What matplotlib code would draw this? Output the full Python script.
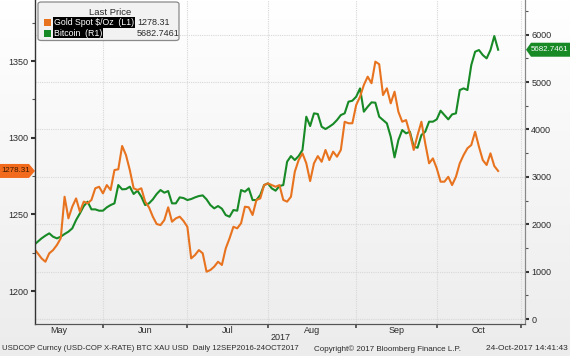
import numpy as np
import pandas as pd
import matplotlib
matplotlib.use("Agg")
import matplotlib.pyplot as plt
import matplotlib.transforms as mtransforms
from matplotlib.patches import Polygon, FancyBboxPatch, Rectangle
from matplotlib.colors import LinearSegmentedColormap

plt.rcParams["font.family"] = ["Liberation Sans", "DejaVu Sans"]

# data: business days 8 May 2017 - 24 Oct 2017
dates = pd.bdate_range("2017-05-08", "2017-10-24")

gold = [1227.8, 1224.6, 1221.3, 1219.1, 1224.6, 1226.7, 1230.0, 1234.4, 1261.5, 1247.4,
        1255.0, 1260.4, 1251.7, 1258.3, 1257.2, 1259.4, 1267.0, 1268.0, 1263.7, 1269.1,
        1265.9, 1278.9, 1279.4, 1294.6, 1288.7, 1278.9, 1267.0, 1265.9, 1267.0, 1258.3,
        1254.6, 1248.5, 1243.7, 1243.0, 1246.3, 1254.6, 1245.2, 1247.4, 1248.5, 1245.7,
        1241.9, 1221.3, 1223.5, 1226.7, 1224.6, 1212.6, 1213.7, 1215.9, 1219.1, 1217.0,
        1227.8, 1234.4, 1241.9, 1240.9, 1244.2, 1255.0, 1254.6, 1249.6, 1259.4, 1260.4,
        1269.1, 1270.2, 1269.1, 1268.0, 1269.1, 1259.4, 1258.3, 1261.5, 1277.8, 1285.4,
        1289.8, 1283.3, 1271.7, 1283.3, 1288.0, 1284.3, 1292.0, 1285.4, 1290.9, 1287.6,
        1292.0, 1310.4, 1309.4, 1309.4, 1321.3, 1326.7, 1334.4, 1339.8, 1335.5, 1349.6,
        1347.9, 1327.8, 1332.2, 1322.4, 1330.0, 1316.9, 1310.4, 1311.5, 1302.8, 1292.0,
        1301.7, 1310.4, 1296.3, 1283.3, 1286.5, 1280.0, 1271.3, 1271.3, 1274.5, 1269.1,
        1274.5, 1283.3, 1288.7, 1293.1, 1295.2, 1303.9, 1294.1, 1285.4, 1282.2, 1289.8,
        1281.5, 1278.31]

bitcoin = [1561, 1632, 1702, 1759, 1808, 1737, 1702, 1737, 1794, 1843,
           1913, 2089, 2230, 2384, 2476, 2314, 2314, 2286, 2286, 2356,
           2405, 2441, 2827, 2736, 2743, 2792, 2638, 2708, 2581, 2405,
           2441, 2525, 2638, 2722, 2666, 2701, 2441, 2441, 2567, 2553,
           2511, 2532, 2567, 2595, 2609, 2525, 2405, 2335, 2384, 2328,
           2194, 2159, 2300, 2286, 2722, 2687, 2757, 2511, 2511, 2616,
           2827, 2862, 2757, 2708, 2806, 2827, 3320, 3439, 3355, 3439,
           3566, 4269, 4072, 4340, 4326, 4058, 4009, 4058, 4115, 4199,
           4304, 4340, 4586, 4607, 4691, 4867, 4375, 4480, 4572, 4565,
           4269, 4199, 4129, 3847, 3411, 3777, 3988, 3918, 3953, 3636,
           3615, 3882, 3953, 4164, 4164, 4213, 4396, 4304, 4213, 4318,
           4340, 4832, 4867, 4832, 5359, 5641, 5676, 5570, 5500, 5676,
           5971, 5682.7461]

gold_last = 1278.31
btc_last = 5682.7461
gold_ticks = [1200, 1250, 1300, 1350]
btc_ticks = [0, 1000, 2000, 3000, 4000, 5000, 6000]
month_names = ["May", "Jun", "Jul", "Aug", "Sep", "Oct"]

ORANGE = "#e8731f"
GREEN = "#178a26"
TXT = "#2b2b2b"

W, H = 570, 356
fig = plt.figure(figsize=(W / 100, H / 100), dpi=100)

# background gradient
bg = fig.add_axes([0, 0, 1, 1], zorder=-5)
grad = LinearSegmentedColormap.from_list("g", ["#ffffff", "#ececec"])
bg.imshow(np.linspace(0, 1, 256).reshape(-1, 1), cmap=grad, aspect="auto",
          extent=[0, 1, 0, 1])
bg.axis("off")

left, right, bottom, top = 35 / W, 525 / W, 1 - 324 / H, 1.0
ax2 = fig.add_axes([left, bottom, right - left, top - bottom])  # bitcoin (right)
ax = ax2.twinx()                                                 # gold (left)
ax.yaxis.set_label_position("left")
ax.yaxis.tick_left()
ax2.yaxis.tick_right()
ax.set_zorder(ax2.get_zorder() + 1)
ax.patch.set_visible(False)
ax2.patch.set_visible(False)

x = np.arange(len(dates))
ax2.plot(x, bitcoin, color=GREEN, lw=1.5)
ax.plot(x, gold, color=ORANGE, lw=1.5)

ax.set_xlim(0.29, 128.0)
ax.set_ylim(1178.5, 1389.8)
ax2.set_ylim(-105, 6732)

# month ticks (weekday axis)
full = pd.bdate_range("2017-05-01", "2017-11-01")
shift = list(full).index(dates[0])
starts = [i for i in range(1, len(full)) if full[i].month != full[i - 1].month]
bounds = [0] + starts
ticks = [s - shift for s in starts]
label_pos = [(bounds[k] + bounds[k + 1]) / 2 - shift for k in range(len(month_names))]
label_pos[0] = max(label_pos[0], 6.5)

ax2.set_xticks(ticks)
ax2.set_xticklabels([])
ax2.set_xticks(label_pos, minor=True)
ax2.set_xticklabels(month_names, minor=True)
ax2.tick_params(axis="x", which="major", length=3, width=1.2, color="#444", direction="out")
ax2.tick_params(axis="x", which="minor", length=0, labelsize=6.5, labelcolor=TXT, pad=1.5)
ax.tick_params(axis="x", which="both", bottom=False, labelbottom=False)

ax2.set_yticks(btc_ticks)
ax2.set_yticks(np.arange(500, 6600, 1000), minor=True)
ax2.tick_params(axis="y", which="major", length=3, width=1.5, color="#333",
                labelsize=6.5, labelcolor=TXT, pad=1.5)
ax2.tick_params(axis="y", which="minor", length=2, width=0.8, color="#555")

ax.set_yticks(gold_ticks)
ax.set_yticks([1225, 1275, 1325, 1375], minor=True)
ax.tick_params(axis="y", which="major", length=3, width=1.5, color="#333",
               labelsize=6.5, labelcolor=TXT, pad=1.5)
ax.tick_params(axis="y", which="minor", length=2, width=0.8, color="#555")

ax2.grid(True, axis="both", which="major", color="#d8d8d8", lw=0.8, ls=(0, (1, 1)))
ax2.set_axisbelow(True)

for a in (ax, ax2):
    a.spines["top"].set_visible(False)
ax.spines["left"].set_color("#333")
ax.spines["left"].set_linewidth(1.0)
ax.spines["bottom"].set_color("#555")
ax2.spines["bottom"].set_color("#555")
ax.spines["right"].set_color("#888")
ax2.spines["right"].set_color("#888")
ax2.spines["left"].set_visible(False)

# last price tags
tr_l = mtransforms.blended_transform_factory(fig.transFigure, ax.transData)
hh = 7 * (1389.8 - 1178.5) / 324
fig.add_artist(Polygon([(0, gold_last - hh), (29 / W, gold_last - hh), (35 / W, gold_last),
                        (29 / W, gold_last + hh), (0, gold_last + hh)],
                       closed=True, transform=tr_l, facecolor="#f26a1b", edgecolor="none"))
fig.text(1.5 / W, gold_last, f"{gold_last:.2f}", transform=tr_l, fontsize=5.7,
         color="#3a1a00", va="center", ha="left")

tr_r = mtransforms.blended_transform_factory(fig.transFigure, ax2.transData)
hr = 7 * (6732 + 105) / 324
fig.add_artist(Polygon([(526 / W, btc_last), (531 / W, btc_last + hr), (1.0, btc_last + hr),
                        (1.0, btc_last - hr), (531 / W, btc_last - hr)],
                       closed=True, transform=tr_r, facecolor=GREEN, edgecolor="none"))
fig.text(530.5 / W, btc_last, f"{btc_last:.4f}", transform=tr_r, fontsize=5.7,
         color="white", va="center", ha="left")

# legend box
def fx(px):
    return px / W

def fy(py):
    return 1 - py / H

fig.add_artist(FancyBboxPatch((fx(38), fy(40.5)), fx(141), 38.5 / H,
                              boxstyle="round,pad=0,rounding_size=0.006",
                              transform=fig.transFigure, facecolor="#f2f2f2",
                              edgecolor="#8a8a8a", lw=0.9))
fig.text(fx(110), fy(12.5), "Last Price", fontsize=6.8, color=TXT,
         ha="center", va="center")
rows = [("Gold Spot $/Oz  (L1)", ORANGE, f"{gold_last:.2f}", 22.5),
        ("Bitcoin  (R1)", GREEN, f"{btc_last:.4f}", 33)]
for name, col, val, py in rows:
    fig.add_artist(Rectangle((fx(43.5), fy(py + 3.5)), fx(7), 7 / H,
                             transform=fig.transFigure, facecolor=col, edgecolor="none"))
    fig.text(fx(54), fy(py), name, fontsize=6.3, color="white",
             ha="left", va="center",
             bbox=dict(facecolor="black", edgecolor="none", pad=0.6))
    fig.text(fx(137), fy(py), val, fontsize=6.5, color=TXT,
             ha="left", va="center")

# footer
fig.text(fx(281), fy(337), "2017", fontsize=6.5, color=TXT, ha="center", va="center")
fig.text(fx(2), fy(349), "USDCOP Curncy (USD-COP X-RATE) BTC XAU USD  Daily 12SEP2016-24OCT2017",
         fontsize=5.6, color=TXT, ha="left", va="center")
fig.text(fx(314), fy(349), "Copyright\u00a9 2017 Bloomberg Finance L.P.",
         fontsize=5.8, color=TXT, ha="left", va="center")
fig.text(fx(568), fy(349), "24-Oct-2017 14:41:43",
         fontsize=6, color=TXT, ha="right", va="center")

fig.savefig("out.png", dpi=100)
